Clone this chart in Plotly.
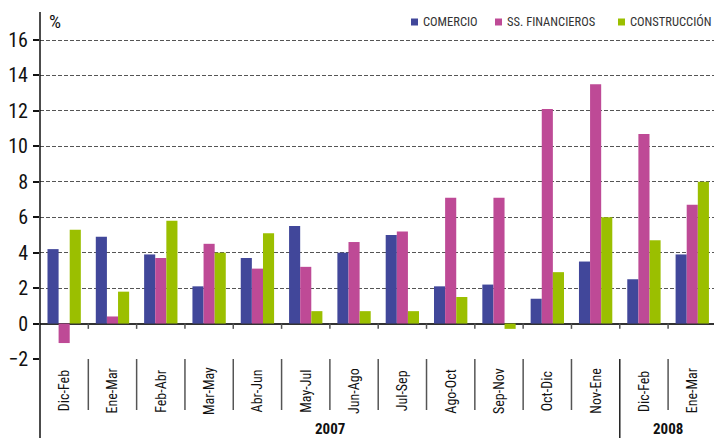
import plotly.graph_objects as go

periods = ["Dic-Feb", "Ene-Mar", "Feb-Abr", "Mar-May", "Abr-Jun", "May-Jul", "Jun-Ago",
           "Jul-Sep", "Ago-Oct", "Sep-Nov", "Oct-Dic", "Nov-Ene", "Dic-Feb", "Ene-Mar"]
year_labels = ["2007", "2008"]
year_spans = [(0, 11), (12, 13)]

comercio = [4.2, 4.9, 3.9, 2.1, 3.7, 5.5, 4.0, 5.0, 2.1, 2.2, 1.4, 3.5, 2.5, 3.9]
financieros = [-1.1, 0.4, 3.7, 4.5, 3.1, 3.2, 4.6, 5.2, 7.1, 7.1, 12.1, 13.5, 10.7, 6.7]
construccion = [5.3, 1.8, 5.8, 4.0, 5.1, 0.7, 0.7, 0.7, 1.5, -0.3, 2.9, 6.0, 4.7, 8.0]

series = [
    ("COMERCIO", comercio, "#41479A"),
    ("SS. FINANCIEROS", financieros, "#BE4A96"),
    ("CONSTRUCCIÓN", construccion, "#9BBF00"),
]

FONT = "Liberation Sans Narrow, Arial Narrow, Roboto Condensed, Roboto, sans-serif"
x = list(range(len(periods)))

fig = go.Figure()
for name, vals, col in series:
    fig.add_trace(go.Bar(x=x, y=vals, name=name, showlegend=False,
                         marker=dict(color=col, line=dict(width=0))))

W, H = 714, 438
mt, mb, ml, mr = 12, 79, 40, 0
ph = H - mt - mb
pw = W - ml - mr
bottom_px = H - mb


def py(p):
    return (bottom_px - p) / ph


def px(p):
    return (p - ml) / pw


shapes = []
# y axis line extended down
shapes.append(dict(type="line", xref="paper", yref="paper", x0=0, x1=0, y0=py(438), y1=1,
                   line=dict(color="#111", width=1.5)))
n = len(periods)
for i in range(n - 1):
    b = i + 0.5
    long_line = (i == year_spans[0][1])
    shapes.append(dict(type="line", xref="x", yref="paper", x0=b, x1=b, y0=py(438) if long_line else py(410), y1=0,
                       line=dict(color="#222" if long_line else "#555", width=1.5)))
    shapes.append(dict(type="line", xref="x", yref="y", x0=b, x1=b, y0=-0.3, y1=0,
                       line=dict(color="#555", width=1.5)))

annotations = []
for i, p in enumerate(periods):
    annotations.append(dict(x=i, xref="x", y=py(391), yref="paper", text=p, textangle=-90,
                            showarrow=False, xanchor="center", yanchor="middle",
                            font=dict(family=FONT, size=14, color="#111")))
for lab, (a, b) in zip(year_labels, year_spans):
    annotations.append(dict(x=(a + b) / 2, xref="x", y=py(429), yref="paper", text="<b>%s</b>" % lab,
                            showarrow=False, xanchor="center", yanchor="middle",
                            font=dict(family=FONT, size=15, color="#111")))
annotations.append(dict(x=px(55), xref="paper", y=py(21), yref="paper", text="%",
                        showarrow=False, xanchor="center", yanchor="middle",
                        font=dict(family=FONT, size=19, color="#111")))

# legend (manual, to match the compact layout of the reference)
legend_sq_x = [411, 495, 618]
for (name, vals, col), sx in zip(series, legend_sq_x):
    shapes.append(dict(type="rect", xref="paper", yref="paper", x0=px(sx), x1=px(sx + 7),
                       y0=py(25.5), y1=py(18.5), fillcolor=col, line=dict(width=0)))
    annotations.append(dict(x=px(sx + 10), xref="paper", y=py(22), yref="paper", text=name,
                            showarrow=False, xanchor="left", yanchor="middle",
                            font=dict(family=FONT, size=12.5, color="#333")))

fig.update_layout(
    width=W, height=H,
    margin=dict(l=ml, r=mr, t=mt, b=mb),
    plot_bgcolor="white", paper_bgcolor="white",
    barmode="group", bargap=0.31, bargroupgap=0,
    showlegend=False,
    xaxis=dict(range=[-0.5, 13.45], showticklabels=False, showgrid=False, zeroline=False,
               showline=False, ticks=""),
    yaxis=dict(range=[-2, 17.58], tickvals=list(range(-2, 17, 2)), showgrid=True,
               gridcolor="#555", griddash="4px,2px", gridwidth=1,
               zeroline=True, zerolinecolor="#333", zerolinewidth=1.5,
               showline=False, ticks="outside", ticklen=6, tickcolor="#111", tickwidth=1.5,
               ticklabelstandoff=1,
               tickfont=dict(family=FONT, size=20, color="#111")),
    shapes=shapes,
    annotations=annotations,
)

fig.write_html("out.html", config={"displayModeBar": False},
               post_script="document.body.style.margin='0';document.body.style.overflow='hidden';")
